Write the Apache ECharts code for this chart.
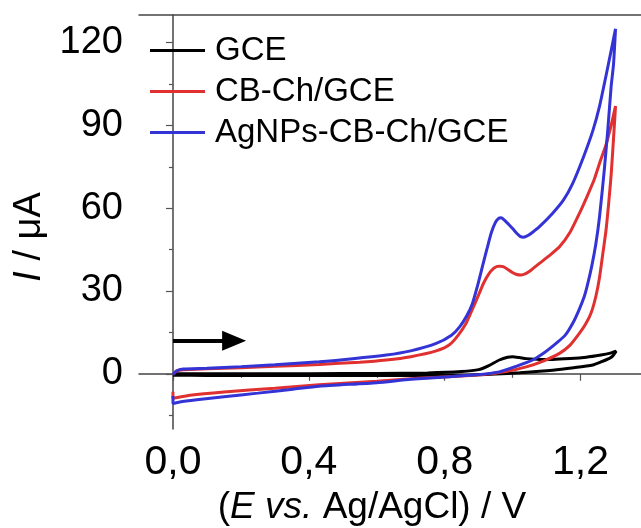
<!DOCTYPE html>
<html>
<head>
<meta charset="utf-8">
<script src="https://cdn.jsdelivr.net/npm/echarts@6/dist/echarts.min.js"></script>
<style>
html,body{margin:0;padding:0;background:#fff;}
#chart{width:641px;height:528px;}
</style>
</head>
<body>
<div id="chart"></div>
<script>
// ---- data (E / V, I / µA), forward scan then reverse scan ----
const seriesNames = ['GCE', 'CB-Ch/GCE', 'AgNPs-CB-Ch/GCE'];

const gceData = [
  [0.0,0.0],[0.2,0.0],[0.4,0.05],[0.6,0.1],[0.75,0.3],[0.85,0.8],[0.9,1.5],[0.93,3],[0.961,5],[0.985,6],[1.0,6.2],
  [1.02,5.9],[1.04,5.5],[1.08,5.2],[1.118,5.2],[1.17,5.5],[1.217,6],[1.26,6.8],[1.285,7.4],[1.305,8.2],
  [1.295,6.5],[1.285,5.6],[1.26,4.3],[1.236,3.2],[1.18,2.2],[1.118,1.3],[1.02,0.4],[0.95,-0.1],[0.873,-0.5],
  [0.7,-0.6],[0.5,-0.6],[0.3,-0.6],[0.1,-0.6],[0.0,-0.5]
];

const cbData = [
  [0.0,-0.3],[0.01,1.0],[0.03,1.5],[0.1,1.8],[0.2,2.2],[0.3,2.7],[0.431,3.4],[0.55,4.2],[0.628,5.0],[0.7,6.2],
  [0.775,8.3],[0.814,10.5],[0.84,14],[0.863,18.3],[0.882,23.5],[0.902,29.2],[0.915,33],[0.931,36.4],[0.945,38.3],
  [0.955,38.9],[0.963,39],[0.972,38.8],[0.985,37.9],[0.998,36.8],[1.012,36],[1.025,35.8],[1.04,36.4],[1.055,37.6],
  [1.079,40],[1.11,43],[1.138,46],[1.17,51.5],
  [1.197,58.2],[1.22,64.5],[1.24,70.3],[1.256,76.3],[1.275,83],[1.29,90],[1.303,97],
  [1.297,85],[1.29,72],[1.283,62],[1.275,52],[1.265,43],[1.256,35],[1.245,28],[1.231,22],[1.215,18],[1.197,14.7],
  [1.17,10.5],[1.138,7.4],[1.09,4.6],[1.04,2.5],[0.98,0.8],[0.913,-0.3],[0.85,-0.8],[0.765,-1.3],[0.7,-1.8],
  [0.6,-2.7],[0.43,-4.0],[0.3,-5.2],[0.15,-6.6],[0.05,-7.8],[0.005,-8.8],[0.0,-8.9],[0.0,-6.5]
];

const agData = [
  [0.0,-0.3],[0.01,1.0],[0.03,1.7],[0.1,2.0],[0.2,2.6],[0.3,3.3],[0.431,4.4],[0.5,5.1],[0.628,6.8],[0.7,8.3],
  [0.775,11],[0.82,14],[0.844,17],[0.865,21],[0.882,25.6],[0.897,32],[0.911,38.8],[0.925,45.5],[0.937,51],
  [0.948,54.5],[0.958,56.2],[0.966,56.5],[0.975,55.8],[0.988,54.2],[1.0,52.6],[1.012,50.9],[1.022,49.8],
  [1.032,49.5],[1.045,50.1],[1.06,51.4],[1.079,53.3],[1.118,58.2],
  [1.15,63],[1.177,69],[1.207,78],[1.236,88],[1.256,97],[1.275,108],[1.29,117],[1.303,125],
  [1.297,112],[1.29,104],[1.28,88],[1.27,74],[1.256,57],[1.245,47],[1.233,39],[1.22,32],[1.211,28],[1.195,23],
  [1.177,18.3],[1.155,14],[1.128,11],[1.095,7.8],[1.059,5],[1.01,2.7],[0.961,0.7],[0.9,-0.3],[0.87,-0.5],
  [0.814,-1.1],[0.7,-2.0],[0.6,-3.2],[0.43,-4.5],[0.353,-5.6],[0.25,-7],[0.15,-8.3],[0.07,-9.4],[0.02,-10.2],
  [0.0,-10.8],[0.0,-8.0]
];

// scan-direction arrow (data units)
const arrowStart = [0.0, 12];
const arrowEnd = [0.18, 12];

// axes
const xMin = -0.1, xMax = 1.378;
const yMin = -20, yMax = 130;
const xMajorTicks = [0.0, 0.4, 0.8, 1.2];
const xMinorTicks = [0.2, 0.6, 1.0];
const yMajorTicks = [0, 30, 60, 90, 120];
const yMinorTicks = [-15, 15, 45, 75, 105];

const colors = ['#000000', '#e0302f', '#3333d6'];
const FONT = "'Liberation Sans', Arial, sans-serif";

const chart = echarts.init(document.getElementById('chart'), null, {renderer: 'canvas'});

const lineSeries = [gceData, cbData, agData].map((d, i) => ({
  name: seriesNames[i],
  type: 'line',
  data: d,
  xAxisIndex: 0,
  yAxisIndex: 0,
  showSymbol: false,
  symbol: 'none',
  smooth: 0.2,
  lineStyle: {color: colors[i], width: 3},
  itemStyle: {color: colors[i]},
  z: 3 + i
}));

lineSeries.push({
  name: 'arrow',
  type: 'line',
  data: [],
  xAxisIndex: 0,
  yAxisIndex: 0,
  markLine: {
    silent: true,
    symbol: ['none', 'triangle'],
    symbolSize: [20, 24],
    label: {show: false},
    lineStyle: {color: '#000', width: 4, type: 'solid'},
    data: [[{coord: arrowStart}, {coord: arrowEnd}]]
  }
});

const axisLineStyle = {color: '#444', width: 1.5};

const option = {
  animation: false,
  backgroundColor: '#fff',
  textStyle: {fontFamily: FONT},
  grid: {left: 139, right: 0, top: 15, bottom: 99, containLabel: false, outerBoundsMode: 'none'},
  legend: {
    data: seriesNames,
    left: 150,
    top: 34,
    orient: 'vertical',
    padding: 0,
    itemGap: 8,
    itemWidth: 55,
    itemHeight: 3,
    icon: 'rect',
    textStyle: {fontFamily: FONT, fontSize: 33, color: '#000', lineHeight: 33, padding: [0, 0, 0, 5]}
  },
  xAxis: [
    {
      type: 'value', position: 'bottom', min: xMin, max: xMax,
      name: '({i|E} {i|vs.} Ag/AgCl) / V',
      nameLocation: 'middle', nameGap: 60,
      nameTextStyle: {fontFamily: FONT, fontSize: 37, color: '#000', padding: [0, 36, 0, 0],
        rich: {i: {fontFamily: FONT, fontSize: 37, fontStyle: 'italic', color: '#000'}}},
      axisLine: {show: true, lineStyle: axisLineStyle},
      axisTick: {show: true, inside: false, length: 7, customValues: xMajorTicks, lineStyle: {color: '#555', width: 1.2}},
      axisLabel: {show: true, customValues: xMajorTicks, margin: 13, fontFamily: FONT, fontSize: 41, color: '#000',
        formatter: v => v.toFixed(1).replace('.', ',')},
      splitLine: {show: false}
    },
    {
      type: 'value', position: 'bottom', min: xMin, max: xMax,
      axisLine: {show: false},
      axisTick: {show: true, inside: false, length: 4, customValues: xMinorTicks, lineStyle: {color: '#555', width: 1.2}},
      axisLabel: {show: false},
      splitLine: {show: false}
    },
    {
      type: 'value', position: 'top', min: xMin, max: xMax,
      axisLine: {show: true, lineStyle: axisLineStyle},
      axisTick: {show: false},
      axisLabel: {show: false},
      splitLine: {show: false}
    }
  ],
  yAxis: [
    {
      type: 'value', position: 'left', min: yMin, max: yMax,
      name: '{i|I} / μA',
      nameLocation: 'middle', nameGap: 88, nameRotate: 90,
      nameTextStyle: {fontFamily: FONT, fontSize: 38, color: '#000', padding: [0, 30, 0, 0],
        rich: {i: {fontFamily: FONT, fontSize: 38, fontStyle: 'italic', color: '#000'}}},
      axisLine: {show: true, lineStyle: axisLineStyle},
      axisTick: {show: true, inside: false, length: 7, customValues: yMajorTicks, lineStyle: {color: '#555', width: 1.2}},
      axisLabel: {show: true, customValues: yMajorTicks, margin: 16, fontFamily: FONT, fontSize: 38, color: '#000'},
      splitLine: {show: false}
    },
    {
      type: 'value', position: 'left', min: yMin, max: yMax,
      axisLine: {show: false},
      axisTick: {show: true, inside: false, length: 4, customValues: yMinorTicks, lineStyle: {color: '#555', width: 1.2}},
      axisLabel: {show: false},
      splitLine: {show: false}
    }
  ],
  series: lineSeries
};

chart.setOption(option);
</script>
</body>
</html>
